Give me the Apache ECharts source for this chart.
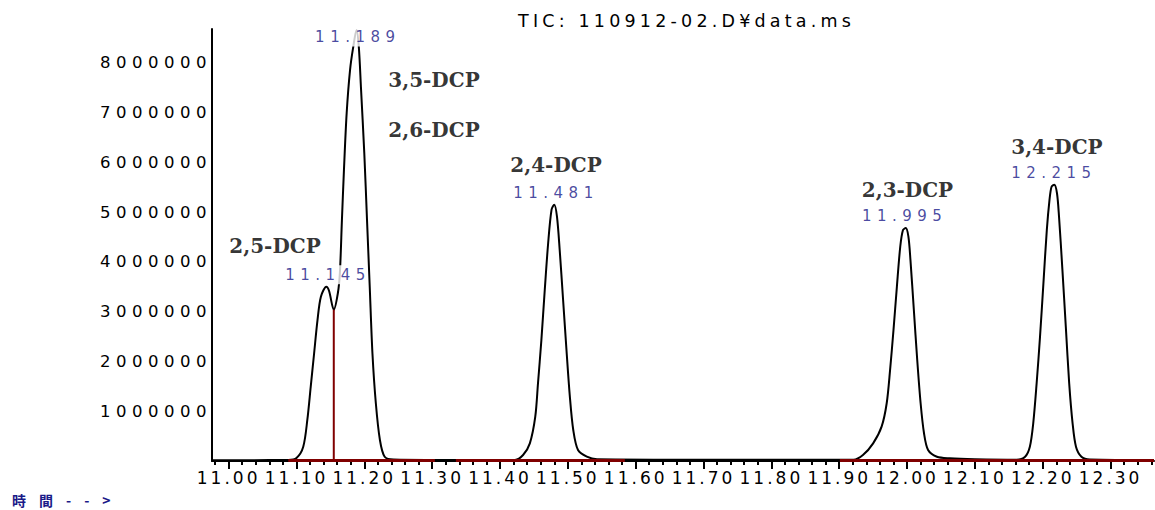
<!DOCTYPE html>
<html>
<head>
<meta charset="utf-8">
<title>TIC: 110912-02.D</title>
<script src="https://cdn.jsdelivr.net/npm/echarts@6.0.0/dist/echarts.min.js"></script>
<style>
  html, body { margin: 0; padding: 0; background: #fff; }
  #chart { width: 1155px; height: 510px; }
  /* 原图的文字字距很宽, svg 渲染下用 letter-spacing 模拟 (按字号区分) */
  #chart text[style*="17.5px"] { letter-spacing: 4.2px; } /* 标题 */
  #chart text[style*="17px"] { letter-spacing: 3px; }     /* x 轴刻度 */
  #chart text[style*="16.5px"] { letter-spacing: 5.5px; } /* y 轴刻度 */
  #chart text[style*="15px"] { letter-spacing: 5.5px; }   /* 保留时间 */
  #chart text[style*="14px"] { letter-spacing: 13px; }    /* 時間--> */
</style>
</head>
<body>
<div id="chart"></div>
<script>
// 色谱图 (TIC) 数据，从原图读出的近似值
// 保留时间 (min)
const times = [
  10.976, 11.060, 11.088, 11.100, 11.110, 11.116, 11.121, 11.126, 11.131, 11.136,
  11.144, 11.148, 11.155, 11.161, 11.164, 11.167, 11.170, 11.174, 11.179, 11.1837,
  11.1885, 11.1919, 11.195, 11.200, 11.204, 11.208, 11.212, 11.217, 11.223, 11.230,
  11.243, 11.300, 11.422, 11.434, 11.444, 11.452, 11.456, 11.461, 11.466, 11.471,
  11.476, 11.480, 11.484, 11.488, 11.493, 11.498, 11.503, 11.508, 11.515, 11.528,
  11.543, 11.700, 11.921, 11.935, 11.950, 11.9625, 11.970, 11.975, 11.980, 11.985,
  11.990, 11.994, 11.998, 12.002, 12.005, 12.010, 12.015, 12.020, 12.025, 12.031,
  12.044, 12.063, 12.100, 12.1615, 12.174, 12.181, 12.186, 12.191, 12.196, 12.201,
  12.206, 12.210, 12.213, 12.217, 12.221, 12.224, 12.229, 12.234, 12.239, 12.244,
  12.249, 12.257, 12.2695, 12.364
];
// 强度 (abundance)
const intensity = [
  15000, 18000, 22000, 60000, 287000, 824000, 1490000, 2160000, 2830000, 3300000,
  3500000, 3420000, 3040000, 3370000, 3780000, 4840000, 5850000, 6990000, 7860000, 8320000,
  8660000, 8320000, 7520000, 6180000, 4840000, 3500000, 2160000, 1160000, 422000, 86000,
  30000, 22000, 22000, 120000, 355000, 890000, 1560000, 2430000, 3440000, 4380000,
  5050000, 5150000, 4910000, 4240000, 3240000, 2230000, 1290000, 623000, 221000, 86000,
  35000, 25000, 25000, 120000, 355000, 690000, 1160000, 1830000, 2630000, 3500000,
  4310000, 4640000, 4680000, 4510000, 4040000, 3040000, 2030000, 1160000, 557000, 221000,
  86000, 54000, 35000, 25000, 86000, 287000, 758000, 1560000, 2500000, 3570000,
  4640000, 5250000, 5510000, 5550000, 5380000, 4910000, 3840000, 2700000, 1560000, 758000,
  287000, 86000, 30000, 20000
];

// 峰顶: 保留时间 / 峰高
const peakTimes = [11.145, 11.189, 11.481, 11.995, 12.215];
const peakHeights = [3500000, 8660000, 5150000, 4680000, 5550000];

// 积分基线 (起点, 终点) 和 11.145/11.189 之间的分割线
const intBaselines = [[11.088, 11.304], [11.335, 11.584], [11.901, 12.364]];
const dropLine = [11.155, 3040000];

// 化合物名称 (标注锚点，数据坐标)
const compoundNames = ['2,5-DCP', '3,5-DCP', '2,6-DCP', '2,4-DCP', '2,3-DCP', '3,4-DCP'];
const compoundAt = [[11.0684, 4320000], [11.3027, 7660000], [11.3027, 6650000],
                    [11.4826, 5950000], [12.0006, 5450000], [12.2209, 6310000]];

// 刻度
const xMajorTicks = [11.0, 11.1, 11.2, 11.3, 11.4, 11.5, 11.6, 11.7, 11.8, 11.9, 12.0, 12.1, 12.2, 12.3];
const yTickValues = [1000000, 2000000, 3000000, 4000000, 5000000, 6000000, 7000000, 8000000];

const xMin = 10.9755, xMax = 12.364;
const yMax = 8680000;
const blue = '#1a1a88';
const red = '#800000';

// 小刻度 0.02 一格
let xMinorTicks = [];
for (let k = 549; k <= 618; k++) {
  if (k % 5 !== 0) xMinorTicks.push(Math.round(k * 2) / 100);
}

let seriesList = [];
seriesList.push({
  name: 'TIC',
  type: 'line',
  data: times.map((t, i) => [t, intensity[i]]),
  smooth: 0.3,
  symbol: 'none',
  lineStyle: { color: '#000', width: 2 },
  z: 1
});
// 积分基线 (红)
intBaselines.forEach(function (seg) {
  seriesList.push({
    type: 'line',
    data: [[seg[0], 10000], [seg[1], 10000]],
    symbol: 'none',
    lineStyle: { color: red, width: 3 },
    z: 3
  });
});
seriesList.push({
  type: 'line',
  data: [[dropLine[0], 0], [dropLine[0], dropLine[1]]],
  symbol: 'none',
  lineStyle: { color: red, width: 2 },
  z: 3
});
// 保留时间标签 (白底，盖住下面的曲线)
seriesList.push({
  type: 'scatter',
  z: 10,
  symbolSize: 1,
  itemStyle: { color: 'rgba(0,0,0,0)' },
  data: peakTimes.map(function (t, i) {
    let lab = { position: 'top', distance: 2, offset: [1, 0] };
    if (i === 1) lab = { position: 'top', distance: -17, offset: [1, 0] }; // 大峰被截顶，标签压在峰顶上
    return { value: [t, peakHeights[i]], label: lab };
  }),
  label: {
    show: true,
    formatter: p => p.value[0].toFixed(3),
    fontFamily: 'DejaVu Sans',
    fontSize: 15,
    color: blue,
    backgroundColor: '#fff',
    padding: [2, 12]
  }
});
// 化合物名称
seriesList.push({
  type: 'scatter',
  z: 10,
  symbolSize: 1,
  itemStyle: { color: 'rgba(0,0,0,0)' },
  data: compoundAt.map((p, i) => ({ value: p, name: compoundNames[i] })),
  label: {
    show: true,
    position: 'inside',
    formatter: p => p.name,
    fontFamily: 'DejaVu Serif',
    fontWeight: 'bold',
    fontSize: 20,
    color: '#000'
  }
});

let option = {
  animation: false,
  backgroundColor: '#fff',
  title: [
    {
      text: 'TIC: 110912-02.D¥data.ms',
      left: 518, top: 12, padding: 0,
      textStyle: { fontFamily: 'DejaVu Sans', fontSize: 17.5, fontWeight: 'normal', color: '#000' }
    },
    {
      text: '時間-->',
      left: 12, top: 493, padding: 0,
      textStyle: { fontFamily: 'Noto Sans CJK JP', fontSize: 14, fontWeight: 'bold', color: blue }
    }
  ],
  grid: { left: 212, right: 1, top: 29, bottom: 49 },
  xAxis: [
    {
      type: 'value',
      min: xMin, max: xMax,
      axisLine: { onZero: false, lineStyle: { color: '#000', width: 2 } },
      axisTick: { customValues: xMajorTicks, length: 8, lineStyle: { color: '#000', width: 2 } },
      axisLabel: {
        customValues: xMajorTicks,
        formatter: v => v.toFixed(2),
        margin: 8,
        fontFamily: 'DejaVu Sans', fontSize: 17, color: '#000'
      },
      splitLine: { show: false }
    },
    {
      // 只画小刻度
      type: 'value',
      position: 'bottom',
      min: xMin, max: xMax,
      axisLine: { show: false, onZero: false },
      axisTick: { customValues: xMinorTicks, length: 4, lineStyle: { color: '#000', width: 2 } },
      axisLabel: { show: false },
      splitLine: { show: false }
    }
  ],
  yAxis: {
    type: 'value',
    min: 0, max: yMax,
    axisLine: { show: true, lineStyle: { color: '#000', width: 2 } },
    axisTick: { show: false },
    splitLine: { show: false },
    axisLabel: {
      customValues: yTickValues,
      formatter: v => String(v),
      margin: 0,
      fontFamily: 'DejaVu Sans', fontSize: 16.5, color: '#000'
    }
  },
  series: seriesList
};

let chart = echarts.init(document.getElementById('chart'), null, { renderer: 'svg' });
chart.setOption(option);
</script>
</body>
</html>
